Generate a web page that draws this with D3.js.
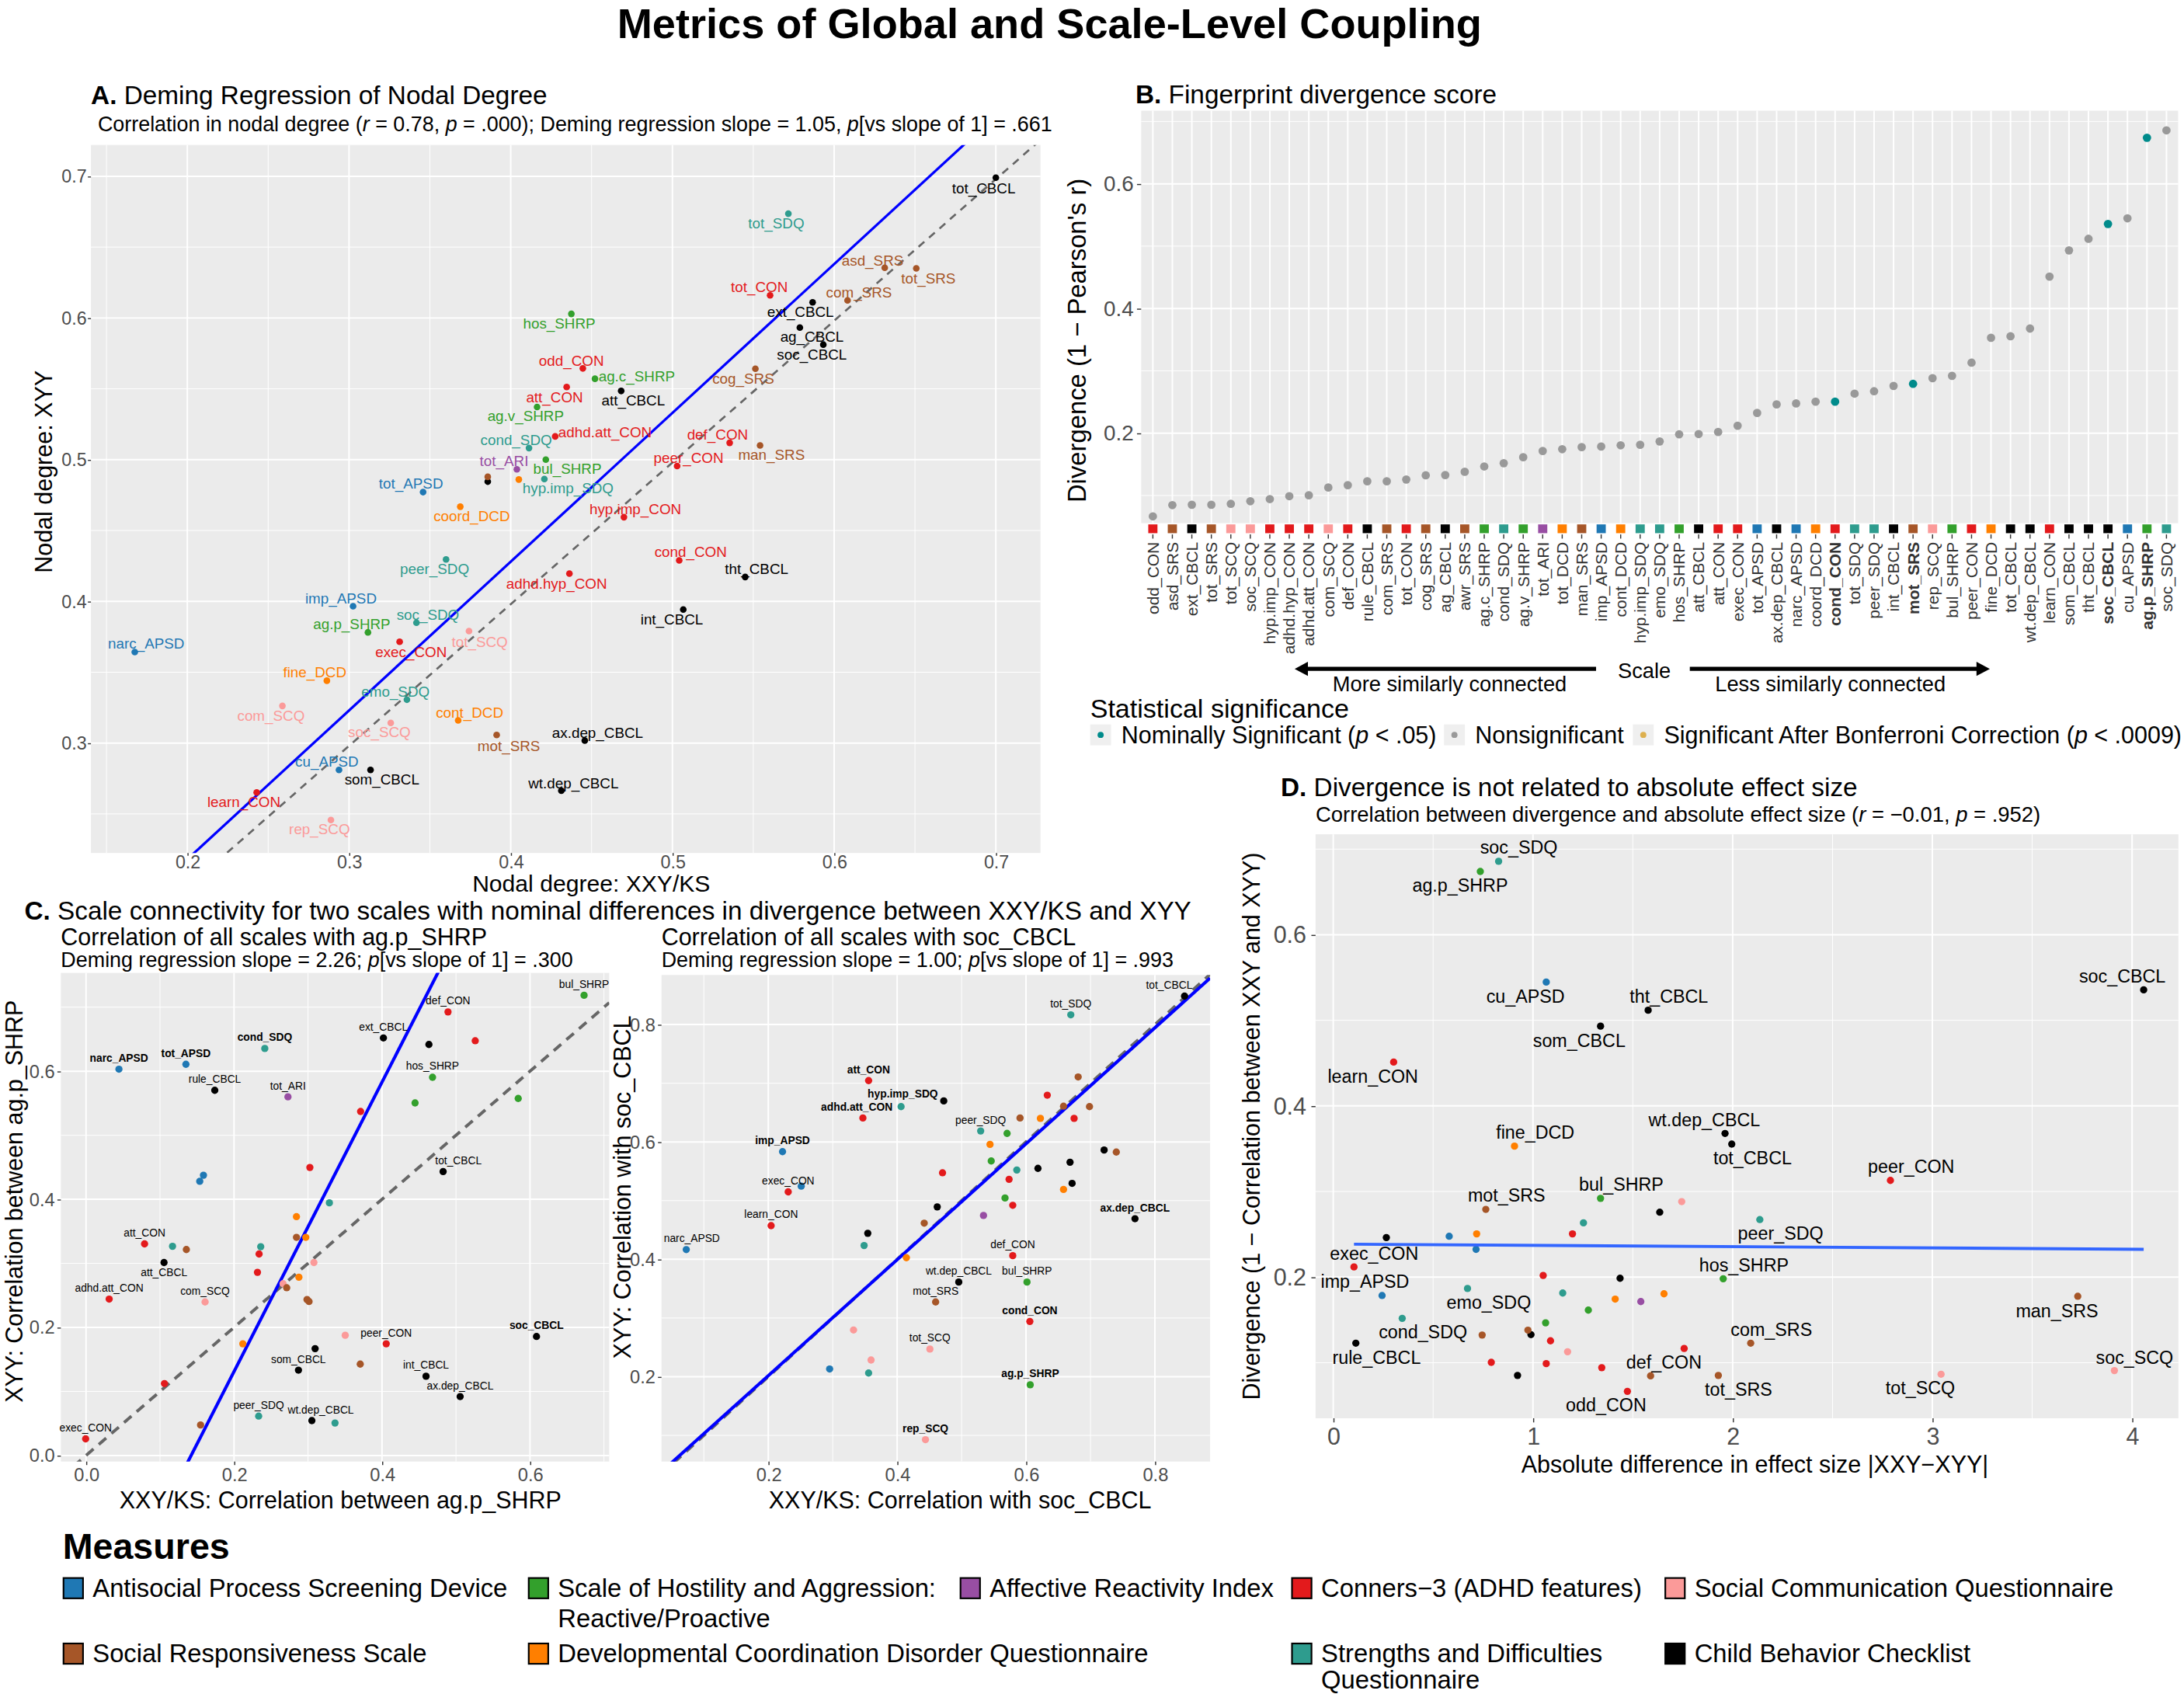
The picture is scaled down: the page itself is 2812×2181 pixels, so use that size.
<!DOCTYPE html>
<html><head><meta charset="utf-8">
<script src="https://cdn.jsdelivr.net/npm/d3@7"></script>
<style>body{margin:0;background:#fff} text{white-space:pre}</style>
</head><body><script>
// ---------------- DATA ----------------
const groupCodes = ["APSD","SHRP","ARI","CON","SCQ","SRS","DCD","SDQ","CBCL"];
const groupNames = ["Antisocial Process Screening Device","Scale of Hostility and Aggression:|Reactive/Proactive","Affective Reactivity Index","Conners\u22123 (ADHD features)","Social Communication Questionnaire","Social Responsiveness Scale","Developmental Coordination Disorder Questionnaire","Strengths and Difficulties|Questionnaire","Child Behavior Checklist"];

// scales, ordered by divergence (panel B order)
const scales = ["odd_CON","asd_SRS","ext_CBCL","tot_SRS","tot_SCQ","soc_SCQ","hyp.imp_CON","adhd.hyp_CON","adhd.att_CON","com_SCQ","def_CON","rule_CBCL","com_SRS","tot_CON","cog_SRS","ag_CBCL","awr_SRS","ag.c_SHRP","cond_SDQ","ag.v_SHRP","tot_ARI","tot_DCD","man_SRS","imp_APSD","cont_DCD","hyp.imp_SDQ","emo_SDQ","hos_SHRP","att_CBCL","att_CON","exec_CON","tot_APSD","ax.dep_CBCL","narc_APSD","coord_DCD","cond_CON","tot_SDQ","peer_SDQ","int_CBCL","mot_SRS","rep_SCQ","bul_SHRP","peer_CON","fine_DCD","tot_CBCL","wt.dep_CBCL","learn_CON","som_CBCL","tht_CBCL","soc_CBCL","cu_APSD","ag.p_SHRP","soc_SDQ"];
const divergence = [0.0665,0.0846,0.0851,0.0851,0.0865,0.0908,0.0942,0.0989,0.1004,0.1128,0.1166,0.1228,0.1228,0.1256,0.1323,0.1328,0.1380,0.1466,0.1518,0.1614,0.1714,0.1743,0.1776,0.1785,0.1805,0.1814,0.1867,0.1981,0.1986,0.2019,0.2119,0.2324,0.2462,0.2477,0.2505,0.2505,0.2634,0.2672,0.2758,0.2791,0.2882,0.2920,0.3130,0.3530,0.3554,0.3678,0.4512,0.4932,0.5118,0.5356,0.5447,0.6739,0.6858];
const nominalSignificant = ["cond_CON","mot_SRS","soc_CBCL","ag.p_SHRP"];

// Panel A: nodal degree (same order as scales)
const nodalXXY = [0.4446,0.6313,0.5867,0.6508,0.3742,0.3258,0.4700,0.4363,0.4275,0.2588,0.5354,0.3858,0.6083,0.5604,0.5513,0.5788,0.3858,0.4521,0.4113,0.4163,0.4038,0.4050,0.5542,0.3025,0.3675,0.4208,0.3358,0.4375,0.4683,0.4346,0.3313,0.3458,0.4458,0.1675,0.3688,0.5042,0.5717,0.3600,0.5067,0.3913,0.2888,0.4217,0.5029,0.2863,0.7000,0.4313,0.2429,0.3133,0.5450,0.5933,0.2938,0.3117,0.3417];
const nodalXYY = [0.5644,0.6354,0.6110,0.6350,0.3790,0.3142,0.4594,0.4196,0.5164,0.3262,0.5119,0.4845,0.6124,0.6160,0.5642,0.5932,0.4879,0.5571,0.5082,0.5372,0.4932,0.4860,0.5100,0.3966,0.3160,0.4863,0.3306,0.6029,0.5485,0.5513,0.3715,0.4771,0.3017,0.3642,0.4668,0.4289,0.6736,0.4296,0.3942,0.3057,0.2457,0.5000,0.4955,0.3440,0.6990,0.2664,0.2651,0.2810,0.4172,0.5812,0.2810,0.3781,0.3849];
const aUnlabeled = ["awr_SRS","rule_CBCL","tot_DCD"];
const aDemingSlope = 1.05, aDemingIntercept = 0.0080, aIdentityIntercept = -0.002;

// Panel D: absolute difference in effect size (same order as scales)
const absDiff = [1.4729,1.5890,0.9228,1.9282,3.0435,3.9114,1.3445,1.0665,0.7914,1.1734,1.7571,0.1131,2.0902,1.0879,0.7456,0.9901,0.9748,1.0634,0.3453,1.2773,1.5401,1.4118,3.7280,0.2445,1.6562,1.1490,0.6723,1.9526,1.4362,1.0512,0.1039,0.7151,0.2659,0.5806,0.7181,1.1978,1.2529,2.1360,1.6348,0.7639,1.7448,1.3384,2.7899,0.9076,1.9954,1.9618,0.3025,1.3384,1.5768,4.0580,1.0665,0.7364,0.8281];
const dLabeled = ["soc_SDQ","ag.p_SHRP","cu_APSD","tht_CBCL","som_CBCL","soc_CBCL","learn_CON","wt.dep_CBCL","tot_CBCL","fine_DCD","peer_CON","bul_SHRP","mot_SRS","peer_SDQ","exec_CON","hos_SHRP","imp_APSD","emo_SDQ","man_SRS","cond_SDQ","rule_CBCL","com_SRS","def_CON","tot_SRS","odd_CON","tot_SCQ","soc_SCQ"];
const dFitIntercept = 0.2386, dFitSlope = -0.0015;

// Panel C left: correlation with ag.p_SHRP
const cLeftLabel = ["narc_APSD","tot_APSD","cond_SDQ","rule_CBCL","tot_ARI","ext_CBCL","def_CON","bul_SHRP","","","hos_SHRP","","","","","","","tot_CBCL","","","","","att_CON","","","","att_CBCL","","","","","","","adhd.att_CON","com_SCQ","","","","peer_CON","","","som_CBCL","","int_CBCL","ax.dep_CBCL","soc_CBCL","","peer_SDQ","wt.dep_CBCL","","","exec_CON"];
const cLeftGroup = ["APSD","APSD","SDQ","CBCL","ARI","CBCL","CON","SHRP","CBCL","CON","SHRP","SHRP","SHRP","CON","APSD","APSD","CON","CBCL","SDQ","DCD","SRS","DCD","CON","SDQ","SRS","SDQ","CBCL","CON","SCQ","CON","DCD","SCQ","SRS","CON","SCQ","SRS","SRS","SCQ","CON","DCD","CBCL","CBCL","SRS","CBCL","CBCL","CBCL","CON","SDQ","CBCL","SDQ","SRS","CON"];
const cLeftX = [0.0445,0.1350,0.2416,0.1740,0.2729,0.4019,0.4892,0.6731,0.4634,0.5260,0.4683,0.4447,0.5841,0.3711,0.1587,0.1537,0.3025,0.4826,0.3289,0.2844,0.2844,0.2970,0.0791,0.1169,0.1356,0.2361,0.1054,0.2339,0.3080,0.2317,0.2877,0.2663,0.2712,0.0313,0.1609,0.2987,0.3014,0.3503,0.4057,0.2119,0.3096,0.2871,0.3706,0.4595,0.5056,0.6088,0.1060,0.2333,0.3052,0.3365,0.1548,-0.0005];
const cLeftY = [0.6032,0.6108,0.6355,0.5702,0.5600,0.6520,0.6926,0.7186,0.6418,0.6476,0.5905,0.5505,0.5575,0.5372,0.4376,0.4281,0.4497,0.4433,0.3945,0.3729,0.3406,0.3406,0.3304,0.3266,0.3216,0.3260,0.3013,0.3146,0.3013,0.2860,0.2784,0.2683,0.2619,0.2442,0.2397,0.2435,0.2404,0.1877,0.1744,0.1744,0.1668,0.1332,0.1427,0.1237,0.0920,0.1858,0.1123,0.0615,0.0545,0.0507,0.0476,0.0260];
const cLeftBold = ["narc_APSD","tot_APSD","cond_SDQ","soc_CBCL"];
const cLeftSlope = 2.26, cLeftIntercept = -0.321;

// Panel C right: correlation with soc_CBCL
const cRightLabel = ["tot_CBCL","tot_SDQ","att_CON","","hyp.imp_SDQ","","adhd.att_CON","","","","","","","peer_SDQ","","","imp_APSD","","","","","","","","","","exec_CON","","","","","","","ax.dep_CBCL","learn_CON","","","","narc_APSD","","def_CON","wt.dep_CBCL","bul_SHRP","mot_SRS","cond_CON","","tot_SCQ","","","","ag.p_SHRP","rep_SCQ"];
const cRightGroup = ["CBCL","SDQ","CON","SRS","SDQ","CBCL","CON","CON","SRS","SRS","DCD","SRS","CON","SDQ","SHRP","DCD","APSD","CBCL","SRS","SHRP","CBCL","CBCL","SDQ","CON","CON","CBCL","CON","APSD","DCD","SHRP","CON","CBCL","ARI","CBCL","CON","SRS","CBCL","SDQ","APSD","DCD","CON","CBCL","SHRP","SRS","CON","SCQ","SCQ","SCQ","APSD","SDQ","SHRP","SCQ"];
const cRightX = [0.8460,0.6695,0.3557,0.6809,0.4061,0.4723,0.3468,0.6330,0.6582,0.6985,0.6223,0.5907,0.6746,0.5296,0.5706,0.5441,0.2221,0.7212,0.7401,0.5460,0.6683,0.6185,0.5857,0.4704,0.5737,0.6715,0.2309,0.2511,0.6582,0.5674,0.5794,0.4622,0.5340,0.7691,0.2044,0.4420,0.3544,0.3487,0.0727,0.4143,0.5794,0.4956,0.6015,0.4597,0.6059,0.3323,0.4508,0.3595,0.2952,0.3557,0.6065,0.4439];
const cRightY = [0.8484,0.8166,0.7045,0.7107,0.6602,0.6699,0.6408,0.6796,0.6609,0.6602,0.6401,0.6408,0.6401,0.6187,0.6145,0.5958,0.5834,0.5862,0.5827,0.5675,0.5654,0.5550,0.5522,0.5474,0.5363,0.5294,0.5149,0.5246,0.5190,0.5045,0.4920,0.4893,0.4747,0.4692,0.4574,0.4616,0.4443,0.4235,0.4166,0.4028,0.4062,0.3612,0.3612,0.3273,0.2941,0.2796,0.2471,0.2284,0.2131,0.2062,0.1862,0.0927];
const cRightBold = ["att_CON","hyp.imp_SDQ","adhd.att_CON","imp_APSD","ax.dep_CBCL","cond_CON","ag.p_SHRP","rep_SCQ"];
const cRightSlope = 0.988, cRightIntercept = 0.0041;

// ---------------- STYLE / LAYOUT ----------------
const palette = {APSD:"#1F78B4",SHRP:"#33A02C",ARI:"#984EA3",CON:"#E31A1C",SCQ:"#FB9A99",SRS:"#A65628",DCD:"#FF7F00",SDQ:"#2E9C8E",CBCL:"#000000"};
const color = d3.scaleOrdinal().domain(groupCodes).range(groupCodes.map(g => palette[g]));
const groupOf = s => s.slice(s.lastIndexOf("_") + 1);

// label nudges (display px, label centre relative to point)
const aNudge = {tot_CBCL:[-8.7,7.4],tot_SDQ:[-8.7,6.8],asd_SRS:[-8.7,-5.4],tot_SRS:[8.7,7],tot_CON:[-7.7,-6],com_SRS:[8.2,-5.6],ext_CBCL:[-8.7,7],hos_SHRP:[-8.7,6.6],ag_CBCL:[8.7,6.6],soc_CBCL:[-8.2,7],odd_CON:[-8.2,-5.8],cog_SRS:[-8.7,7],"ag.c_SHRP":[30,-2],att_CON:[-8.7,7.4],att_CBCL:[8.7,6.6],"ag.v_SHRP":[-8.2,6.4],"adhd.att_CON":[35.8,-2.8],def_CON:[-8.7,-6.2],man_SRS:[8.2,6.8],cond_SDQ:[-9.2,-5.6],bul_SHRP:[15.5,6.6],peer_CON:[8.2,-6],tot_ARI:[-9.2,-6],"hyp.imp_SDQ":[17,6.6],tot_APSD:[-8.7,-6],coord_DCD:[8.2,6.5],"hyp.imp_CON":[8.2,-6.1],cond_CON:[8.2,-6],peer_SDQ:[-8.2,6.7],tht_CBCL:[8.2,-5.8],"adhd.hyp_CON":[-9.2,7.1],imp_APSD:[-8.7,-5.4],int_CBCL:[-8.2,7.1],soc_SDQ:[8.2,-5.8],"ag.p_SHRP":[-11.6,-5.8],tot_SCQ:[7.7,7.5],exec_CON:[8.2,7.1],narc_APSD:[8.2,-6],fine_DCD:[-8.7,-6.1],emo_SDQ:[-8.2,-5.8],com_SCQ:[-8.2,7.1],cont_DCD:[8.2,-5.8],soc_SCQ:[-8.2,6.3],mot_SRS:[8.7,7.7],"ax.dep_CBCL":[9.2,-5.8],cu_APSD:[-8.7,-6],som_CBCL:[8.2,6.7],"wt.dep_CBCL":[8.7,-5.4],learn_CON:[-9.2,6.7],rep_SCQ:[-8.2,6.7]};
const dNudge = {soc_SDQ:[14.5,-10],"ag.p_SHRP":[-14.5,10],cu_APSD:[-14.9,10.3],tht_CBCL:[14.9,-10],som_CBCL:[-15.3,10.6],soc_CBCL:[-15.3,-10],learn_CON:[-14.9,10],"wt.dep_CBCL":[-14.9,-9.6],tot_CBCL:[14.9,10],fine_DCD:[14.9,-10],peer_CON:[14.9,-10],bul_SHRP:[14.9,-10],mot_SRS:[14.9,-10],peer_SDQ:[14.9,10],exec_CON:[14.5,-9.6],hos_SHRP:[14.9,-10],imp_APSD:[-12.3,-10],emo_SDQ:[15.3,10],man_SRS:[-14.9,10.3],cond_SDQ:[14.9,10],rule_CBCL:[14.9,10.6],com_SRS:[14.9,-10],def_CON:[-14.5,10],tot_SRS:[14.5,10],odd_CON:[-15.3,10],tot_SCQ:[-14.9,10],soc_SCQ:[14.5,-9.6]};
const cLeftNudge = {tot_CBCL:[11,-7.9],att_CBCL:[0,7.3],"wt.dep_CBCL":[6.4,-7.9]};
const cRightNudge = {tot_CBCL:[-11,-7.9],"adhd.att_CON":[-4.4,-8.2],narc_APSD:[4,-8.2],"hyp.imp_SDQ":[1.2,-9]};

const W = 1568, H = 1216;
const FONT = '"Liberation Sans", Arial, Helvetica, sans-serif';
const TICK = "#4D4D4D";
const svg = d3.select("body").append("svg")
  .attr("width", 2812).attr("height", 2181)
  .attr("viewBox", `0 0 ${W} ${H}`)
  .style("font-family", FONT);
svg.append("rect").attr("width", W).attr("height", H).attr("fill", "#fff");
const defs = svg.append("defs");

function rich(parent, x, y, parts, size, opts = {}) {
  const t = parent.append("text").attr("x", x).attr("y", y).attr("font-size", size)
    .attr("text-anchor", opts.anchor || "start").attr("fill", opts.fill || "#000");
  if (opts.transform) t.attr("transform", opts.transform);
  if (opts.dy) t.attr("dy", opts.dy);
  if (opts.weight) t.attr("font-weight", opts.weight);
  parts.forEach(p => {
    const [txt, st] = Array.isArray(p) ? p : [p, ""];
    const ts = t.append("tspan").text(txt);
    if (st.includes("b")) ts.attr("font-weight", "bold");
    if (st.includes("i")) ts.attr("font-style", "italic");
  });
  return t;
}

function panel(c) {
  const x = d3.scaleLinear().domain(c.xd).range([c.l, c.r]);
  const y = d3.scaleLinear().domain(c.yd).range([c.b, c.t]);
  const g = svg.append("g");
  g.append("rect").attr("x", c.l).attr("y", c.t).attr("width", c.r - c.l).attr("height", c.b - c.t).attr("fill", "#EBEBEB");
  const inX = v => v >= c.xd[0] && v <= c.xd[1], inY = v => v >= c.yd[0] && v <= c.yd[1];
  const vl = (vals, w) => g.append("g").selectAll("line").data(vals.filter(inX)).join("line")
    .attr("x1", d => x(d)).attr("x2", d => x(d)).attr("y1", c.t).attr("y2", c.b).attr("stroke", "#fff").attr("stroke-width", w);
  const hl = (vals, w) => g.append("g").selectAll("line").data(vals.filter(inY)).join("line")
    .attr("y1", d => y(d)).attr("y2", d => y(d)).attr("x1", c.l).attr("x2", c.r).attr("stroke", "#fff").attr("stroke-width", w);
  vl(c.xMinor || [], 0.55); hl(c.yMinor || [], 0.55);
  vl(c.xMajor || [], 1.1); hl(c.yMajor || [], 1.1);
  defs.append("clipPath").attr("id", "clip" + c.id).append("rect")
    .attr("x", c.l).attr("y", c.t).attr("width", c.r - c.l).attr("height", c.b - c.t);
  const lines = svg.append("g").attr("clip-path", `url(#clip${c.id})`);
  const marks = svg.append("g");
  return {x, y, c, lines, marks};
}

function axes(P, o) {
  if (o.xTicks) {
    const a = d3.axisBottom(P.x).tickValues(o.xTicks).tickFormat(o.fmt).tickSize(o.tick).tickPadding(o.xPad);
    const g = svg.append("g").attr("transform", `translate(0,${P.c.b})`).call(a)
      .attr("font-family", FONT).attr("font-size", o.fs);
    g.select(".domain").remove();
    g.selectAll("line").attr("stroke", "#333").attr("stroke-width", 0.8);
    g.selectAll("text").attr("fill", TICK);
  }
  if (o.yTicks) {
    const a = d3.axisLeft(P.y).tickValues(o.yTicks).tickFormat(o.fmt).tickSize(o.tick).tickPadding(o.yPad);
    const g = svg.append("g").attr("transform", `translate(${P.c.l},0)`).call(a)
      .attr("font-family", FONT).attr("font-size", o.fs);
    g.select(".domain").remove();
    g.selectAll("line").attr("stroke", "#333").attr("stroke-width", 0.8);
    g.selectAll("text").attr("fill", TICK);
  }
}

function abline(P, slope, intercept, style) {
  const [x0, x1] = P.c.xd;
  P.lines.append("line")
    .attr("x1", P.x(x0)).attr("y1", P.y(slope * x0 + intercept))
    .attr("x2", P.x(x1)).attr("y2", P.y(slope * x1 + intercept))
    .attr("stroke", style.stroke).attr("stroke-width", style.width)
    .attr("stroke-dasharray", style.dash || null);
}

function yTitle(cx, cy, txt, fs) {
  svg.append("text").attr("transform", `translate(${cx},${cy}) rotate(-90)`)
    .attr("text-anchor", "middle").attr("dy", "0.35em").attr("font-size", fs).text(txt);
}

// ---------------- MAIN TITLE ----------------
rich(svg, 753.5, 27.4, ["Metrics of Global and Scale-Level Coupling"], 30.2, {anchor: "middle", weight: "bold"});

// ---------------- PANEL A ----------------
const A = panel({id: "A", l: 65.3, r: 747, t: 104, b: 612.3, xd: [0.1404, 0.7276], yd: [0.2224, 0.7221],
  xMajor: [0.2, 0.3, 0.4, 0.5, 0.6, 0.7], xMinor: [0.15, 0.25, 0.35, 0.45, 0.55, 0.65],
  yMajor: [0.3, 0.4, 0.5, 0.6, 0.7], yMinor: [0.25, 0.35, 0.45, 0.55, 0.65]});
axes(A, {xTicks: [0.2, 0.3, 0.4, 0.5, 0.6, 0.7], fmt: d3.format(".1f"), fs: 13, tick: 2, xPad: -0.4});
axes(A, {yTicks: [0.3, 0.4, 0.5, 0.6, 0.7], fmt: d3.format(".1f"), fs: 13, tick: 2.2, yPad: 0.8});
abline(A, 1, aIdentityIntercept, {stroke: "#666", width: 1.5, dash: "5.5,4.5"});
abline(A, aDemingSlope, aDemingIntercept, {stroke: "#0000FF", width: 1.8});
const aData = scales.map((s, i) => ({s, x: nodalXXY[i], y: nodalXYY[i], g: groupOf(s)}));
A.marks.selectAll("circle").data(aData).join("circle")
  .attr("cx", d => A.x(d.x)).attr("cy", d => A.y(d.y)).attr("r", 2.4).attr("fill", d => color(d.g));
A.marks.selectAll("text").data(aData.filter(d => !aUnlabeled.includes(d.s))).join("text")
  .attr("x", d => A.x(d.x) + aNudge[d.s][0]).attr("y", d => A.y(d.y) + aNudge[d.s][1])
  .attr("dy", "0.35em").attr("text-anchor", "middle").attr("font-size", 10.5)
  .attr("fill", d => color(d.g)).text(d => d.s);
rich(svg, 65.3, 74.4, [["A.", "b"], " Deming Regression of Nodal Degree"], 18.6);
rich(svg, 70.2, 93.9, ["Correlation in nodal degree (", ["r", "i"], " = 0.78, ", ["p", "i"], " = .000); Deming regression slope = 1.05, ", ["p", "i"], "[vs slope of 1] = .661"], 15);
rich(svg, 424.5, 640.3, ["Nodal degree: XXY/KS"], 16.8, {anchor: "middle"});
yTitle(31.5, 338.6, "Nodal degree: XYY", 17);

// ---------------- PANEL B ----------------
const bx = d3.scalePoint().domain(scales).range([819.3, 1563.8]).padding(0.6);
const B = panel({id: "B", l: 819.3, r: 1563.8, t: 79.4, b: 375.5, xd: [0, 1], yd: [0.0556, 0.7173],
  yMajor: [0.2, 0.4, 0.6], yMinor: [0.1, 0.3, 0.5, 0.7]});
B.marks.append("g").selectAll("line").data(scales).join("line")
  .attr("x1", d => bx(d)).attr("x2", d => bx(d)).attr("y1", B.c.t).attr("y2", B.c.b)
  .attr("stroke", "#fff").attr("stroke-width", 1.1);
axes(B, {yTicks: [0.2, 0.4, 0.6], fmt: d3.format(".1f"), fs: 15.5, tick: 3, yPad: 2.4});
const bData = scales.map((s, i) => ({s, v: divergence[i], g: groupOf(s), sig: nominalSignificant.includes(s)}));
B.marks.append("g").selectAll("circle").data(bData).join("circle")
  .attr("cx", d => bx(d.s)).attr("cy", d => B.y(d.v)).attr("r", 3)
  .attr("fill", d => d.sig ? "#008B8B" : "#999999");
B.marks.append("g").selectAll("rect").data(bData).join("rect")
  .attr("x", d => bx(d.s) - 3.3).attr("y", 376.4).attr("width", 6.6).attr("height", 6.3)
  .attr("fill", d => color(d.g));
B.marks.append("g").selectAll("line").data(bData).join("line")
  .attr("x1", d => bx(d.s)).attr("x2", d => bx(d.s)).attr("y1", 383.6).attr("y2", 386.6)
  .attr("stroke", "#333").attr("stroke-width", 0.8);
B.marks.append("g").selectAll("text").data(bData).join("text")
  .attr("transform", d => `translate(${bx(d.s)},389) rotate(-90)`)
  .attr("text-anchor", "end").attr("dy", "0.35em").attr("font-size", 11.7)
  .attr("font-weight", d => d.sig ? "bold" : null)
  .attr("fill", "#333").text(d => d.s);
rich(svg, 815.2, 74.2, [["B.", "b"], " Fingerprint divergence score"], 18.6);
yTitle(773.1, 244.4, "Divergence (1 \u2212 Pearson's r)", 18.3);
// direction arrows
const arrowG = svg.append("g");
arrowG.append("line").attr("x1", 936).attr("x2", 1145.9).attr("y1", 480.1).attr("y2", 480.1).attr("stroke", "#000").attr("stroke-width", 3);
arrowG.append("path").attr("d", "M929.5,480.1 L939,475 L939,485.2 Z").attr("fill", "#000");
arrowG.append("line").attr("x1", 1213.2).attr("x2", 1422).attr("y1", 480.1).attr("y2", 480.1).attr("stroke", "#000").attr("stroke-width", 3);
arrowG.append("path").attr("d", "M1428.6,480.1 L1419,475 L1419,485.2 Z").attr("fill", "#000");
rich(svg, 1180.5, 486.8, ["Scale"], 15.2, {anchor: "middle"});
rich(svg, 1040.8, 496, ["More similarly connected"], 15.2, {anchor: "middle"});
rich(svg, 1314.1, 496, ["Less similarly connected"], 15.2, {anchor: "middle"});
// significance legend
rich(svg, 782.7, 515.2, ["Statistical significance"], 19);
const sigKeys = [
  {x: 782.7, fill: "#008B8B", parts: ["Nominally Significant (", ["p", "i"], " < .05)"]},
  {x: 1036.7, fill: "#999999", parts: ["Nonsignificant"]},
  {x: 1172.3, fill: "#DDB04E", parts: ["Significant After Bonferroni Correction (", ["p", "i"], " < .0009)"]}];
sigKeys.forEach(k => {
  svg.append("rect").attr("x", k.x).attr("y", 520).attr("width", 15).attr("height", 15).attr("fill", "#EFEFEF");
  svg.append("circle").attr("cx", k.x + 7.5).attr("cy", 527.5).attr("r", 2.2).attr("fill", k.fill);
  rich(svg, k.x + 22.4, 533.5, k.parts, 17);
});

// ---------------- PANEL C ----------------
rich(svg, 17.5, 660.2, [["C.", "b"], " Scale connectivity for two scales with nominal differences in divergence between XXY/KS and XYY"], 18.6);
function cPanel(cfg, labels, groups, xs, ys, bold, nudge, slope, intercept, ttl, sub, xTitle, xTitleX, yTitleTxt, yTitleX, yTitleY, ticks) {
  const P = panel(cfg);
  axes(P, {xTicks: ticks.x, yTicks: ticks.y, fmt: d3.format(".1f"), fs: 13.2, tick: 2.5, xPad: 2, yPad: 1.8});
  abline(P, 1, 0, {stroke: "#666", width: 2.2, dash: "7,5"});
  abline(P, slope, intercept, {stroke: "#0000FF", width: 2.3});
  const data = labels.map((l, i) => ({l, g: groups[i], x: xs[i], y: ys[i]}));
  P.marks.selectAll("circle").data(data).join("circle")
    .attr("cx", d => P.x(d.x)).attr("cy", d => P.y(d.y)).attr("r", 2.6).attr("fill", d => color(d.g));
  P.marks.selectAll("text").data(data.filter(d => d.l)).join("text")
    .attr("x", d => P.x(d.x) + (nudge[d.l] || [0, -8])[0]).attr("y", d => P.y(d.y) + (nudge[d.l] || [0, -8])[1])
    .attr("dy", "0.35em").attr("text-anchor", "middle").attr("font-size", 7.7)
    .attr("font-weight", d => bold.includes(d.l) ? "bold" : null).text(d => d.l);
  rich(svg, cfg.l, 678.8, [ttl], 17);
  rich(svg, cfg.l, 694.3, sub, 15);
  rich(svg, xTitleX, 1082.6, [xTitle], 17, {anchor: "middle"});
  yTitle(yTitleX, yTitleY, yTitleTxt, 17);
}
cPanel({id: "CL", l: 43.7, r: 437.4, t: 698.4, b: 1049.2, xd: [-0.034, 0.7071], yd: [-0.0095, 0.7535],
    xMajor: [0, 0.2, 0.4, 0.6], xMinor: [0.1, 0.3, 0.5, 0.7], yMajor: [0, 0.2, 0.4, 0.6], yMinor: [0.1, 0.3, 0.5, 0.7]},
  cLeftLabel, cLeftGroup, cLeftX, cLeftY, cLeftBold, cLeftNudge, cLeftSlope, cLeftIntercept,
  "Correlation of all scales with ag.p_SHRP", ["Deming regression slope = 2.26; ", ["p", "i"], "[vs slope of 1] = .300"],
  "XXY/KS: Correlation between ag.p_SHRP", 244.4, "XYY: Correlation between ag.p_SHRP", 10, 862.4,
  {x: [0, 0.2, 0.4, 0.6], y: [0, 0.2, 0.4, 0.6]});
cPanel({id: "CR", l: 474.9, r: 868.8, t: 699.9, b: 1049.2, xd: [0.0342, 0.8857], yd: [0.0554, 0.8844],
    xMajor: [0.2, 0.4, 0.6, 0.8], xMinor: [0.1, 0.3, 0.5, 0.7], yMajor: [0.2, 0.4, 0.6, 0.8], yMinor: [0.1, 0.3, 0.5, 0.7]},
  cRightLabel, cRightGroup, cRightX, cRightY, cRightBold, cRightNudge, cRightSlope, cRightIntercept,
  "Correlation of all scales with soc_CBCL", ["Deming regression slope = 1.00; ", ["p", "i"], "[vs slope of 1] = .993"],
  "XXY/KS: Correlation with soc_CBCL", 689.3, "XYY: Correlation with soc_CBCL", 446.6, 852.2,
  {x: [0.2, 0.4, 0.6, 0.8], y: [0.2, 0.4, 0.6, 0.8]});

// ---------------- PANEL D ----------------
const D = panel({id: "D", l: 944.5, r: 1564, t: 598.9, b: 1018.1, xd: [-0.0886, 4.232], yd: [0.0351, 0.7173],
  xMajor: [0, 1, 2, 3, 4], xMinor: [0.5, 1.5, 2.5, 3.5], yMajor: [0.2, 0.4, 0.6], yMinor: [0.1, 0.3, 0.5, 0.7]});
axes(D, {xTicks: [0, 1, 2, 3, 4], fmt: d3.format("d"), fs: 17, tick: 3, xPad: 4});
axes(D, {yTicks: [0.2, 0.4, 0.6], fmt: d3.format(".1f"), fs: 17, tick: 3, yPad: 3.6});
const dData = scales.map((s, i) => ({s, x: absDiff[i], y: divergence[i], g: groupOf(s)}));
D.marks.selectAll("circle").data(dData).join("circle")
  .attr("cx", d => D.x(d.x)).attr("cy", d => D.y(d.y)).attr("r", 2.6).attr("fill", d => color(d.g));
const dx0 = d3.min(absDiff), dx1 = d3.max(absDiff);
D.marks.append("line").attr("x1", D.x(dx0)).attr("y1", D.y(dFitIntercept + dFitSlope * dx0))
  .attr("x2", D.x(dx1)).attr("y2", D.y(dFitIntercept + dFitSlope * dx1))
  .attr("stroke", "#3366FF").attr("stroke-width", 2.2);
D.marks.selectAll("text").data(dData.filter(d => dLabeled.includes(d.s))).join("text")
  .attr("x", d => D.x(d.x) + dNudge[d.s][0]).attr("y", d => D.y(d.y) + dNudge[d.s][1])
  .attr("dy", "0.35em").attr("text-anchor", "middle").attr("font-size", 13).text(d => d.s);
rich(svg, 919.5, 571.4, [["D.", "b"], " Divergence is not related to absolute effect size"], 18.6);
rich(svg, 944.6, 590.1, ["Correlation between divergence and absolute effect size (", ["r", "i"], " = \u22120.01, ", ["p", "i"], " = .952)"], 15.3);
rich(svg, 1259.9, 1057.3, ["Absolute difference in effect size |XXY\u2212XYY|"], 17, {anchor: "middle"});
yTitle(898.5, 808.5, "Divergence (1 \u2212 Correlation between XXY and XYY)", 17);

// ---------------- MEASURES LEGEND ----------------
rich(svg, 45, 1119, ["Measures"], 26, {weight: "bold"});
const legendCols = [45, 379, 689, 927, 1195, 45, 379, 927, 1195];
const legendRows = [0, 0, 0, 0, 0, 1, 1, 1, 1];
groupCodes.forEach((gc, i) => {
  const kx = legendCols[i], cy = legendRows[i] ? 1187 : 1140;
  const lineGap = legendRows[i] ? 18.5 : 22;
  svg.append("rect").attr("x", kx + 0.6).attr("y", cy - 7.2).attr("width", 14).attr("height", 14.6)
    .attr("fill", color(gc)).attr("stroke", "#000").attr("stroke-width", 1.2);
  groupNames[i].split("|").forEach((ln, j) => rich(svg, kx + 21.5, cy + 6.4 + j * lineGap, [ln], 18.3));
});
</script></body></html>
